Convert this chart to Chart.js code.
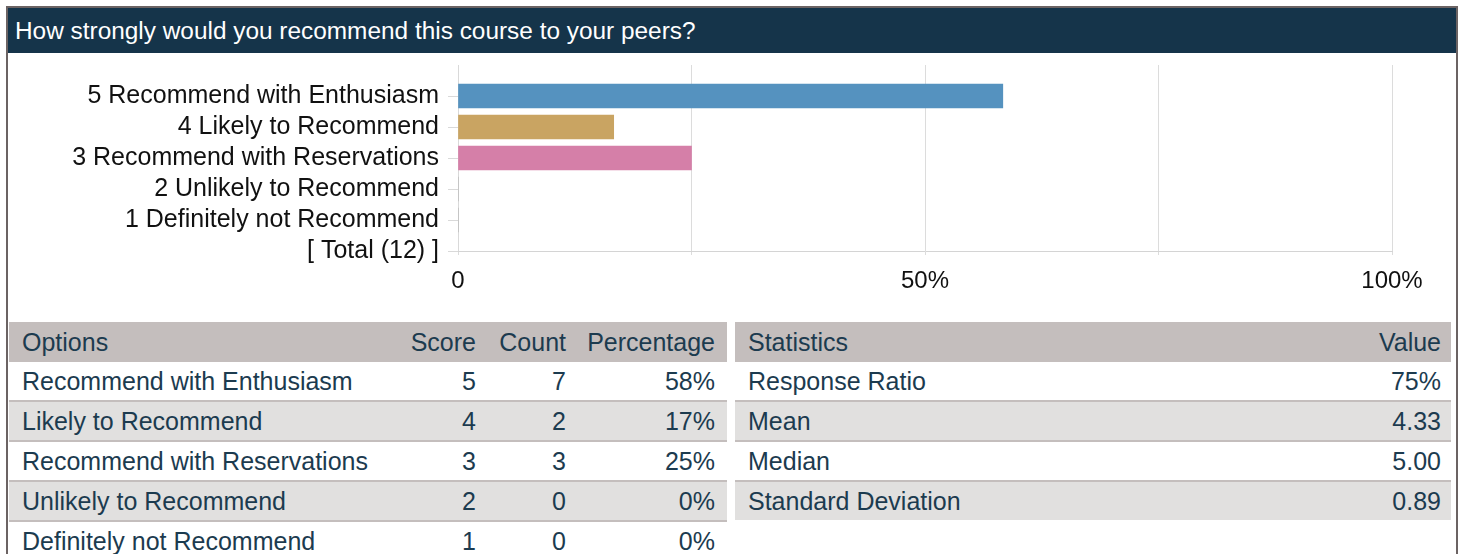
<!DOCTYPE html>
<html>
<head>
<meta charset="utf-8">
<script src="https://cdn.jsdelivr.net/npm/chart.js@4"></script>
<style>
  body { margin: 0; background: #fff; font-family: "Liberation Sans", Arial, sans-serif; }
  #frame { position: absolute; left: 6px; top: 6px; width: 1448px; height: 560px;
           border-top: 2px solid #6b6363; border-left: 2px solid #6b6363; border-right: 2px solid #6b6363; }
  #title { height: 45px; line-height: 45px; background: #15344a; color: #fff; font-size: 24.4px; padding-left: 7px; }
  #chartBox { position: absolute; left: 0; top: 45px; width: 1446px; height: 260px; }
  table { position: absolute; top: 314px; border-collapse: collapse; table-layout: fixed;
          font-size: 25px; color: #1c3b4f; }
  td, th { height: 38px; padding: 0; font-weight: normal; white-space: nowrap; }
  th { background: #c4bebd; height: 40px; }
  tbody tr + tr td { border-top: 2px solid #c4bebd; }
  tbody tr:nth-child(even) td { background: #e1e0df; }
  .l { text-align: left; padding-left: 13px; }
  .r { text-align: right; padding-right: 8px; }
  .rr { text-align: right; padding-right: 12px; }
  #optTable { left: 1px; width: 718px; }
  #statTable { left: 727px; width: 716px; }
  #statTable .rr { padding-right: 10px; }
</style>
</head>
<body>
<div id="frame">
  <div id="title">How strongly would you recommend this course to your peers?</div>
  <div id="chartBox"><canvas id="rec-chart" width="1446" height="260"></canvas></div>
  <table id="optTable">
    <colgroup><col style="width:391px"><col style="width:84px"><col style="width:90px"><col style="width:153px"></colgroup>
    <thead><tr><th class="l">Options</th><th class="r">Score</th><th class="r">Count</th><th class="rr">Percentage</th></tr></thead>
    <tbody id="optBody"></tbody>
  </table>
  <table id="statTable">
    <colgroup><col style="width:500px"><col style="width:216px"></colgroup>
    <thead><tr><th class="l">Statistics</th><th class="rr">Value</th></tr></thead>
    <tbody id="statBody"></tbody>
  </table>
</div>
<script>
// Bar chart data (percent of responses)
var categories = ['5 Recommend with Enthusiasm', '4 Likely to Recommend', '3 Recommend with Reservations',
                  '2 Unlikely to Recommend', '1 Definitely not Recommend', '[ Total (12) ]'];
var percentValues = [58.33, 16.67, 25, 0, 0, null];
var barColors = ['#5592bf', '#c9a462', '#d57fa8', '#9e9e9e', '#9e9e9e', '#9e9e9e'];
var xTickLabels = { 0: '0', 50: '50%', 100: '100%' };

// Table data
var optionNames = ['Recommend with Enthusiasm', 'Likely to Recommend', 'Recommend with Reservations',
                   'Unlikely to Recommend', 'Definitely not Recommend'];
var scores = [5, 4, 3, 2, 1];
var counts = [7, 2, 3, 0, 0];
var percentLabels = ['58%', '17%', '25%', '0%', '0%'];
var statNames = ['Response Ratio', 'Mean', 'Median', 'Standard Deviation'];
var statValues = ['75%', '4.33', '5.00', '0.89'];

// tables
var optBody = document.getElementById('optBody');
optionNames.forEach(function (name, i) {
  var tr = document.createElement('tr');
  tr.innerHTML = '<td class="l">' + name + '</td><td class="r">' + scores[i] + '</td><td class="r">' +
    counts[i] + '</td><td class="rr">' + percentLabels[i] + '</td>';
  optBody.appendChild(tr);
});
var statBody = document.getElementById('statBody');
statNames.forEach(function (name, i) {
  var tr = document.createElement('tr');
  tr.innerHTML = '<td class="l">' + name + '</td><td class="rr">' + statValues[i] + '</td>';
  statBody.appendChild(tr);
});

// chart: an empty first slot keeps the top gap above the first bar
var ctx = document.getElementById('rec-chart').getContext('2d');
var chart = new Chart(ctx, {
  type: 'bar',
  data: {
    labels: [''].concat(categories),
    datasets: [{
      data: [null].concat(percentValues),
      backgroundColor: [null].concat(barColors),
      barThickness: 24
    }]
  },
  options: {
    indexAxis: 'y',
    responsive: false,
    animation: false,
    layout: { padding: { top: 12, right: 62, left: 0, bottom: 0 } },
    plugins: { legend: { display: false }, tooltip: { enabled: false } },
    scales: {
      y: {
        type: 'category',
        offset: false,
        grid: {
          offset: false,
          drawOnChartArea: false,
          tickLength: 10,
          color: function (c) { return c.index === 0 ? 'rgba(0,0,0,0)' : '#d9d9d9'; }
        },
        border: { display: true, color: '#d9d9d9' },
        ticks: { autoSkip: false, color: '#111', padding: 9, font: { family: 'Liberation Sans', size: 25 } },
        afterFit: function (s) { s.width = 450; s.paddingTop = 0; s.paddingBottom = 0; }
      },
      x: {
        min: 0,
        max: 100,
        grid: { color: '#dcdcdc', tickLength: 4 },
        border: { color: '#d4d4d4' },
        ticks: {
          stepSize: 25,
          maxRotation: 0,
          autoSkip: false,
          padding: 12,
          color: '#111',
          font: { family: 'Liberation Sans', size: 24 },
          callback: function (v) { return xTickLabels[v] !== undefined ? xTickLabels[v] : ''; }
        },
        afterFit: function (s) { s.height = 62; s.paddingLeft = 0; s.paddingRight = 0; }
      }
    }
  }
});
</script>
</body>
</html>
